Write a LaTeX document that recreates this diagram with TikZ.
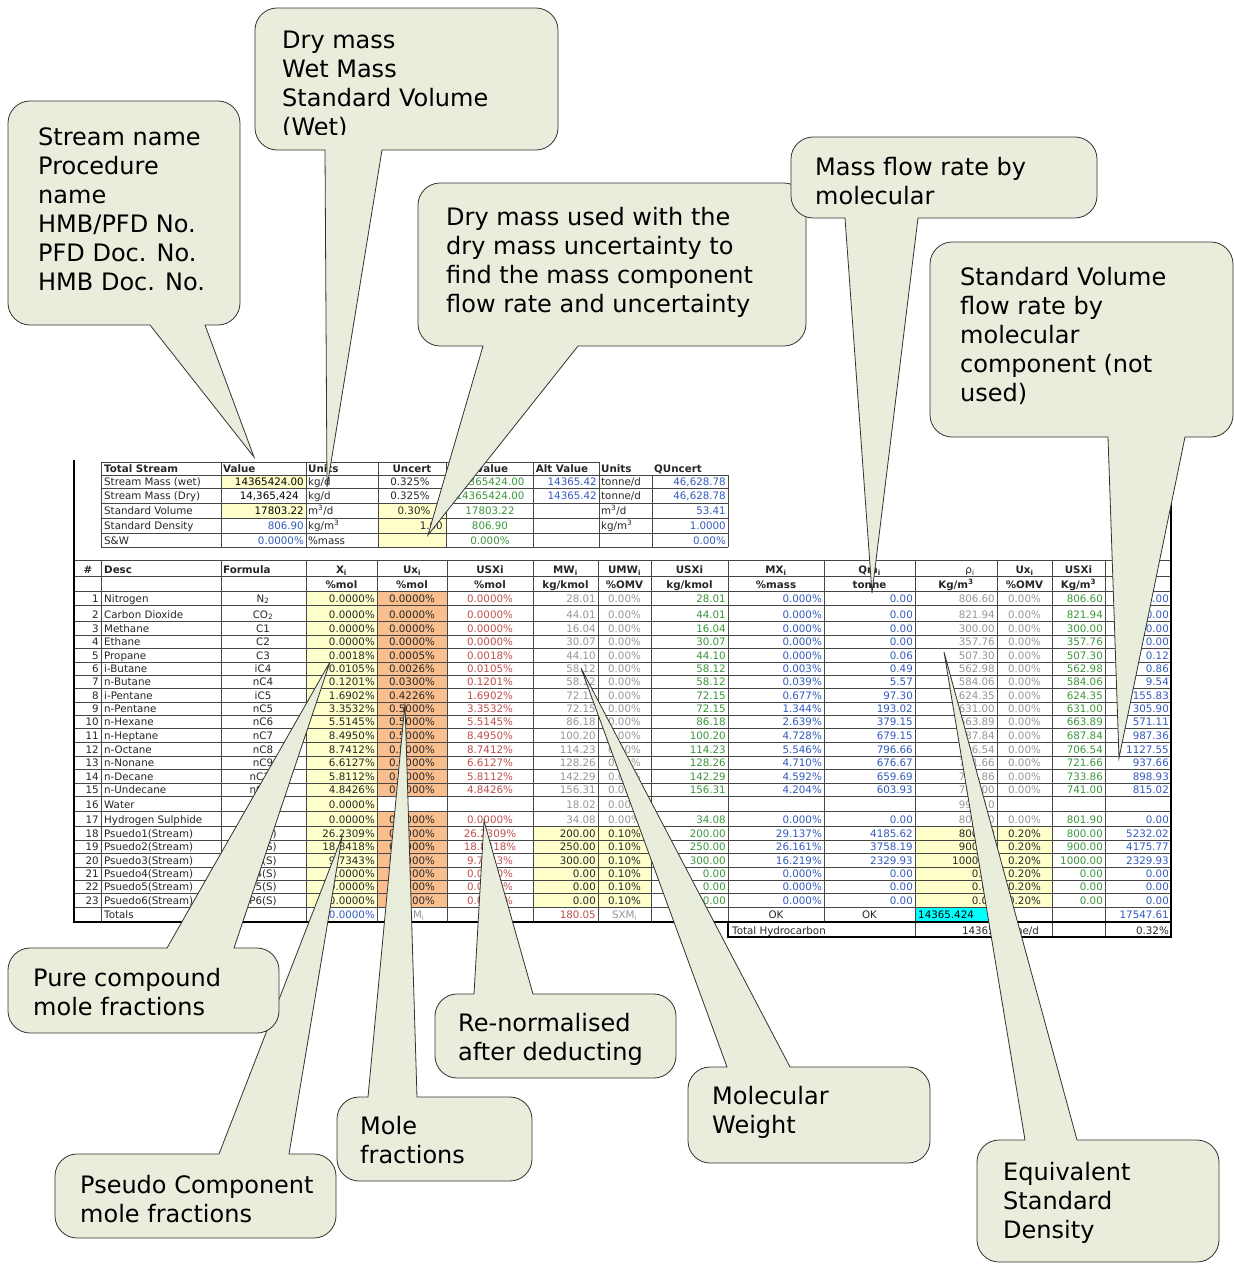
\documentclass[tikz,border=0pt]{standalone}
\usepackage{fontspec}
\setmainfont{DejaVu Sans}
\definecolor{notefill}{RGB}{232,238,219}
\definecolor{cellyellow}{RGB}{255,255,204}
\definecolor{cellorange}{RGB}{250,191,143}
\definecolor{cellcyan}{RGB}{0,255,255}
\definecolor{numred}{RGB}{192,80,77}
\definecolor{numgreen}{RGB}{60,150,60}
\definecolor{numblue}{RGB}{50,90,190}
\definecolor{numgray}{RGB}{150,150,150}
\definecolor{ruleline}{RGB}{70,70,70}
\newcommand{\tabfont}{\fontsize{10.3}{12}\selectfont}
\newcommand{\notefont}{\fontsize{24}{29}\selectfont}
\newcommand{\crad}{22}
\newcommand{\cctl}{10}
% note box, pointer leaves the lower side
\newcommand{\calloutdown}[7]{%
  \filldraw[notebox] (#1+\crad,#2) -- (#3-\crad,#2)
    .. controls (#3-\cctl,#2) and (#3,#2+\cctl) .. (#3,#2+\crad)
    -- (#3,#4-\crad) .. controls (#3,#4-\cctl) and (#3-\cctl,#4) .. (#3-\crad,#4)
    -- (#6,#4) -- (#7) -- (#5,#4)
    -- (#1+\crad,#4) .. controls (#1+\cctl,#4) and (#1,#4-\cctl) .. (#1,#4-\crad)
    -- (#1,#2+\crad) .. controls (#1,#2+\cctl) and (#1+\cctl,#2) .. (#1+\crad,#2) -- cycle;}
% note box, pointer leaves the upper side
\newcommand{\calloutup}[7]{%
  \filldraw[notebox] (#1+\crad,#2) -- (#5,#2) -- (#7) -- (#6,#2) -- (#3-\crad,#2)
    .. controls (#3-\cctl,#2) and (#3,#2+\cctl) .. (#3,#2+\crad)
    -- (#3,#4-\crad) .. controls (#3,#4-\cctl) and (#3-\cctl,#4) .. (#3-\crad,#4)
    -- (#1+\crad,#4) .. controls (#1+\cctl,#4) and (#1,#4-\cctl) .. (#1,#4-\crad)
    -- (#1,#2+\crad) .. controls (#1,#2+\cctl) and (#1+\cctl,#2) .. (#1+\crad,#2) -- cycle;}
\tikzset{
  cellrule/.style={draw=ruleline, line width=0.6pt},
  thickrule/.style={draw=black, line width=1.6pt},
  cellL/.style={inner sep=0pt, font=\tabfont, anchor=base west, text=black!85},
  cellR/.style={inner sep=0pt, font=\tabfont, anchor=base east, text=black!85},
  cellC/.style={inner sep=0pt, font=\tabfont, anchor=base, text=black!85},
  headbold/.style={font=\tabfont\bfseries},
  notebox/.style={fill=notefill, draw=black!80, line width=0.8pt},
  notetext/.style={anchor=north west, inner sep=0pt, align=left, font=\notefont},
}
\def\yb{{591,605,621,635,648,662,675,688,702,715,728,742,756,769,783,796,811,826,840,853,867,880,893,907,921}}
\begin{document}
\begin{tikzpicture}[x=1pt, y=-1pt]
\useasboundingbox (0,0) rectangle (1234,1264);
\fill[white] (0,0) rectangle (1234,1264);

% upper block: total stream
\fill[cellyellow] (221,475) rectangle (306,488);
\fill[cellyellow] (221,503) rectangle (306,518);
\fill[cellyellow] (378,503) rectangle (446,547);
\draw[cellrule] (101,462) -- (599,462);
\foreach \y in {475,488,503,518,533,547} \draw[cellrule] (101,\y) -- (728,\y);
\foreach \x in {101,221,306,378,446,533,599} \draw[cellrule] (\x,462) -- (\x,547);
\foreach \x in {652,728} \draw[cellrule] (\x,475) -- (\x,547);
\foreach \x/\t/\sty [count=\k] in {104/Total Stream/cellL, 223/Value/cellL, 308/Units/cellL,
    412/Uncert/cellC, 492/Value/cellC, 562/Alt Value/cellC, 601/Units/cellL, 654/QUncert/cellL}
  \node[\sty, headbold] (th\k) at (\x,472) {\t};
\foreach \y/\t [count=\k] in {485/Stream Mass (wet), 499/Stream Mass (Dry), 514/Standard Volume,
    529/Standard Density, 544/S\&W}
  \node[cellL] (tl\k) at (104,\y) {\t};
\foreach \y/\x/\t/\c [count=\k] in {485/304/14365424.00/black, 499/299/{14,365,424}/black,
    514/304/17803.22/black, 529/304/806.90/numblue, 544/304/0.0000\%/numblue}
  \node[cellR, text=\c] (tv\k) at (\x,\y) {\t};
\foreach \y/\t [count=\k] in {485/{kg/d}, 499/{kg/d}, 514/{m\textsuperscript{3}/d},
    529/{kg/m\textsuperscript{3}}, 544/\%mass}
  \node[cellL] (tu\k) at (308,\y) {\t};
\node[cellC] (tc1) at (410,485) {0.325\%};
\node[cellC] (tc2) at (410,499) {0.325\%};
\node[cellC] (tc3) at (414,514) {0.30\%};
\node[cellR] (tc4) at (443,529) {1.00};
\foreach \y/\t [count=\k] in {485/14365424.00, 499/14365424.00, 514/17803.22, 529/806.90, 544/0.000\%}
  \node[cellC, text=numgreen] (tg\k) at (490,\y) {\t};
\foreach \y [count=\k] in {485,499}
  \node[cellR, text=numblue] (ta\k) at (597,\y) {14365.42};
\foreach \y/\t [count=\k] in {485/{tonne/d}, 499/{tonne/d}, 514/{m\textsuperscript{3}/d},
    529/{kg/m\textsuperscript{3}}}
  \node[cellL] (tw\k) at (601,\y) {\t};
\foreach \y/\t [count=\k] in {485/{46,628.78}, 499/{46,628.78}, 514/53.41, 529/1.0000, 544/0.00\%}
  \node[cellR, text=numblue] (tq\k) at (726,\y) {\t};

% lower block: components
\fill[cellyellow] (306,591) rectangle (377,907);
\fill[cellorange] (377,591) rectangle (447,796);
\fill[cellorange] (377,811) rectangle (447,907);
\fill[cellyellow] (533,826) rectangle (651,907);
\fill[cellyellow] (915,826) rectangle (1052,907);
\fill[cellcyan] (915,907) rectangle (997,921);
\foreach \y in {560,576,591,605,621,635,648,662,675,688,702,715,728,742,756,769,783,796,811,826,840,853,867,880,893,907}
  \draw[cellrule] (74,\y) -- (1171,\y);
\foreach \x in {101,221,306,377,447,533,598,651,728,824,915,997,1052,1105}
  \draw[cellrule] (\x,560) -- (\x,921);
\foreach \x in {915,997,1052,1105} \draw[cellrule] (\x,921) -- (\x,937);
\draw[thickrule] (74,460) -- (74,922.5);
\draw[thickrule] (74,922) -- (1171,922);
\draw[thickrule] (728,921) -- (728,937) -- (1171,937);
\draw[thickrule] (1171,460) -- (1171,937.8);

\foreach \x/\t/\sty [count=\k] in {88/\#/cellC, 104/Desc/cellL, 223/Formula/cellL,
    341.5/X\textsubscript{i}/cellC, 412/Ux\textsubscript{i}/cellC, 490/USXi/cellC,
    565.5/MW\textsubscript{i}/cellC, 624.5/UMW\textsubscript{i}/cellC, 689.5/USXi/cellC,
    776/MX\textsubscript{i}/cellC, 869.5/Qm\textsubscript{i}/cellC,
    1024.5/Ux\textsubscript{i}/cellC, 1078.5/USXi/cellC}
  \node[\sty, headbold] (ha\k) at (\x,573) {\t};
\node[cellC] (hrho) at (970,573) {ρ\textsubscript{i}};
\foreach \x/\t [count=\k] in {341.5/\%mol, 412/\%mol, 490/\%mol, 565.5/{kg/kmol}, 624.5/\%OMV,
    689.5/{kg/kmol}, 776/\%mass, 869.5/tonne, 956/{Kg/m\textsuperscript{3}}, 1024.5/\%OMV,
    1078.5/{Kg/m\textsuperscript{3}}}
  \node[cellC, headbold] (hb\k) at (\x,588) {\t};

\foreach \n/\dsc/\frm/\xm/\ux/\us/\mw/\umw/\usm/\mx/\qm/\den/\ud/\usd/\sv in {
  1/Nitrogen/N\textsubscript{2}/0.0000\%/0.0000\%/0.0000\%/28.01/0.00\%/28.01/0.000\%/0.00/806.60/0.00\%/806.60/0.00,
  2/Carbon Dioxide/CO\textsubscript{2}/0.0000\%/0.0000\%/0.0000\%/44.01/0.00\%/44.01/0.000\%/0.00/821.94/0.00\%/821.94/0.00,
  3/Methane/C1/0.0000\%/0.0000\%/0.0000\%/16.04/0.00\%/16.04/0.000\%/0.00/300.00/0.00\%/300.00/0.00,
  4/Ethane/C2/0.0000\%/0.0000\%/0.0000\%/30.07/0.00\%/30.07/0.000\%/0.00/357.76/0.00\%/357.76/0.00,
  5/Propane/C3/0.0018\%/0.0005\%/0.0018\%/44.10/0.00\%/44.10/0.000\%/0.06/507.30/0.00\%/507.30/0.12,
  6/i-Butane/iC4/0.0105\%/0.0026\%/0.0105\%/58.12/0.00\%/58.12/0.003\%/0.49/562.98/0.00\%/562.98/0.86,
  7/n-Butane/nC4/0.1201\%/0.0300\%/0.1201\%/58.12/0.00\%/58.12/0.039\%/5.57/584.06/0.00\%/584.06/9.54,
  8/i-Pentane/iC5/1.6902\%/0.4226\%/1.6902\%/72.15/0.00\%/72.15/0.677\%/97.30/624.35/0.00\%/624.35/155.83,
  9/n-Pentane/nC5/3.3532\%/0.5000\%/3.3532\%/72.15/0.00\%/72.15/1.344\%/193.02/631.00/0.00\%/631.00/305.90,
  10/n-Hexane/nC6/5.5145\%/0.5000\%/5.5145\%/86.18/0.00\%/86.18/2.639\%/379.15/663.89/0.00\%/663.89/571.11,
  11/n-Heptane/nC7/8.4950\%/0.5000\%/8.4950\%/100.20/0.00\%/100.20/4.728\%/679.15/687.84/0.00\%/687.84/987.36,
  12/n-Octane/nC8/8.7412\%/0.5000\%/8.7412\%/114.23/0.00\%/114.23/5.546\%/796.66/706.54/0.00\%/706.54/1127.55,
  13/n-Nonane/nC9/6.6127\%/0.5000\%/6.6127\%/128.26/0.00\%/128.26/4.710\%/676.67/721.66/0.00\%/721.66/937.66,
  14/n-Decane/nC10/5.8112\%/0.5000\%/5.8112\%/142.29/0.00\%/142.29/4.592\%/659.69/733.86/0.00\%/733.86/898.93,
  15/n-Undecane/nC11/4.8426\%/0.5000\%/4.8426\%/156.31/0.00\%/156.31/4.204\%/603.93/741.00/0.00\%/741.00/815.02,
  16/Water/{}/0.0000\%/{}/{}/18.02/0.00\%/{}/{}/{}/999.10/{}/{}/{},
  17/Hydrogen Sulphide/{}/0.0000\%/0.0000\%/0.0000\%/34.08/0.00\%/34.08/0.000\%/0.00/801.90/0.00\%/801.90/0.00,
  18/Psuedo1(Stream)/P1(S)/26.2309\%/0.5000\%/26.2309\%/200.00/0.10\%/200.00/29.137\%/4185.62/800.00/0.20\%/800.00/5232.02,
  19/Psuedo2(Stream)/P2(S)/18.8418\%/0.5000\%/18.8418\%/250.00/0.10\%/250.00/26.161\%/3758.19/900.00/0.20\%/900.00/4175.77,
  20/Psuedo3(Stream)/P3(S)/9.7343\%/0.5000\%/9.7343\%/300.00/0.10\%/300.00/16.219\%/2329.93/1000.00/0.20\%/1000.00/2329.93,
  21/Psuedo4(Stream)/P4(S)/0.0000\%/0.0000\%/0.0000\%/0.00/0.10\%/0.00/0.000\%/0.00/0.00/0.20\%/0.00/0.00,
  22/Psuedo5(Stream)/P5(S)/0.0000\%/0.0000\%/0.0000\%/0.00/0.10\%/0.00/0.000\%/0.00/0.00/0.20\%/0.00/0.00,
  23/Psuedo6(Stream)/P6(S)/0.0000\%/0.0000\%/0.0000\%/0.00/0.10\%/0.00/0.000\%/0.00/0.00/0.20\%/0.00/0.00}{
  \ifnum\n>17 \def\soft{black!85}\else\def\soft{numgray}\fi
  \pgfmathsetmacro\yy{\yb[\n]-3}
  \node[cellR] (num\n) at (99,\yy) {\n};
  \node[cellL] (dsc\n) at (104,\yy) {\dsc};
  \node[cellC] (frm\n) at (263,\yy) {\frm};
  \node[cellR] (xm\n) at (375,\yy) {\xm};
  \node[cellC] (ux\n) at (412,\yy) {\ux};
  \node[cellC, text=numred] (us\n) at (490,\yy) {\us};
  \node[cellR, text=\soft] (mw\n) at (596,\yy) {\mw};
  \node[cellC, text=\soft] (umw\n) at (624.5,\yy) {\umw};
  \node[cellR, text=numgreen] (usm\n) at (726,\yy) {\usm};
  \node[cellR, text=numblue] (mx\n) at (822,\yy) {\mx};
  \node[cellR, text=numblue] (qm\n) at (913,\yy) {\qm};
  \node[cellR, text=\soft] (den\n) at (995,\yy) {\den};
  \node[cellC, text=\soft] (ud\n) at (1024.5,\yy) {\ud};
  \node[cellR, text=numgreen] (usd\n) at (1103,\yy) {\usd};
  \node[cellR, text=numblue] (sv\n) at (1169,\yy) {\sv};
}
% totals
\node[cellL] (totdsc) at (104,918) {Totals};
\node[cellR, text=numblue] (totxm) at (375,918) {100.0000\%};
\node[cellC, text=numgray] (totux) at (412,918) {SXM\textsubscript{i}};
\node[cellR, text=numred] (totmw) at (596,918) {180.05};
\node[cellC, text=numgray] (totumw) at (624.5,918) {SXM\textsubscript{i}};
\node[cellC] (totmx) at (776,918) {OK};
\node[cellC] (totqm) at (869.5,918) {OK};
\begin{scope}
  \clip (915,907) rectangle (997,921);
  \node[cellL, text=black] (totden) at (918,918) {14365.424};
\end{scope}
\node[cellR, text=numblue] (totsv) at (1169,918) {17547.61};
\node[cellL] (hcdsc) at (732,934) {Total Hydrocarbon};
\node[cellR] (hcval) at (995,934) {14365};
\node[cellL] (hcunit) at (999,934) {tonne/d};
\node[cellR] (hcsv) at (1169,934) {0.32\%};

% notes
\coordinate (tipStream) at (254,457);
\coordinate (tipDry) at (327,487);
\coordinate (tipDryUsed) at (428,535);
\coordinate (tipMass) at (872,593);
\coordinate (tipVol) at (1119,758);
\coordinate (tipPure) at (330,662);
\coordinate (tipPseudo) at (342,837);
\coordinate (tipMole) at (405,703);
\coordinate (tipRenorm) at (484,821);
\coordinate (tipMW) at (581,668);
\coordinate (tipDens) at (944,652);

\calloutdown{8}{101}{240}{325}{150}{205}{tipStream}
\node[notetext] (noteStream) at (38,127) {Stream name\\Procedure\\name\\HMB/PFD No.\\PFD Doc. No.\\HMB Doc. No.};
\calloutdown{255}{8}{558}{150}{325}{382}{tipDry}
\begin{scope}
  \clip (260,12) rectangle (555,134);
  \node[notetext] (noteDry) at (282,31) {Dry mass\\Wet Mass\\Standard Volume\\(Wet)};
\end{scope}
\calloutdown{418}{183}{806}{346}{483}{578}{tipDryUsed}
\node[notetext] (noteDryUsed) at (446,207) {Dry mass used with the\\dry mass uncertainty to\\find the mass component\\flow rate and uncertainty};
\calloutdown{791}{137}{1097}{218}{845}{918}{tipMass}
\node[notetext] (noteMass) at (815,157) {Mass flow rate by\\molecular};
\calloutdown{930}{242}{1233}{437}{1108}{1185}{tipVol}
\node[notetext] (noteVol) at (960,267) {Standard Volume\\flow rate by\\molecular\\component (not\\used)};
\calloutup{55}{1154}{336}{1238}{219}{289}{tipPseudo}
\node[notetext] (notePseudo) at (80,1175) {Pseudo Component\\mole fractions};
\calloutup{8}{948}{279}{1033}{167}{234}{tipPure}
\node[notetext] (notePure) at (33,968) {Pure compound\\mole fractions};
\calloutup{337}{1097}{532}{1181}{368}{417}{tipMole}
\node[notetext] (noteMole) at (360,1116) {Mole\\fractions};
\calloutup{435}{994}{676}{1078}{474}{533}{tipRenorm}
\node[notetext] (noteRenorm) at (458,1013) {Re-normalised\\after deducting};
\calloutup{688}{1067}{930}{1163}{727}{790}{tipMW}
\node[notetext] (noteMW) at (712,1086) {Molecular\\Weight};
\calloutup{977}{1140}{1219}{1262}{1025}{1077}{tipDens}
\node[notetext] (noteDens) at (1003,1162) {Equivalent\\Standard\\Density};
\end{tikzpicture}
\end{document}
